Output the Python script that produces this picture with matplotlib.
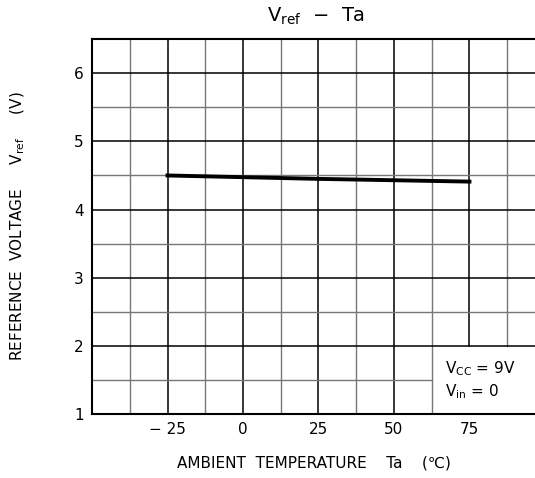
import numpy as np
import matplotlib
matplotlib.use("Agg")
import matplotlib.pyplot as plt

# data
temps = [-25, 0, 25, 50, 75]
vref = [4.50, 4.475, 4.45, 4.43, 4.41]
xticks = [-25, 0, 25, 50, 75]
xtick_labels = ["\u2212 25", "0", "25", "50", "75"]
yticks = [1, 2, 3, 4, 5, 6]

plt.rcParams['font.family'] = ['DejaVu Sans']
plt.rcParams['mathtext.fontset'] = 'dejavusans'

fig = plt.figure(figsize=(5.35, 4.78), dpi=100)
ax = fig.add_axes([0.172, 0.134, 0.828, 0.784])

ax.set_xlim(-50, 96.7)
ax.set_ylim(1, 6.5)

# grid: major black, minor grey; blank box for the conditions note
for x in np.arange(-37.5, 96.7, 12.5):
    major = (x % 25 == 0)
    ax.plot([x, x], [1 if x <= 62.5 else 2, 6.5],
            color='black' if major else '#777777',
            lw=1.1 if major else 1.0, zorder=1)
for y in np.arange(1.5, 6.5, 0.5):
    major = (y % 1 == 0)
    x_end = 62.5 if y < 2 else 96.7
    ax.plot([-50, x_end], [y, y],
            color='black' if major else '#777777',
            lw=1.1 if major else 1.0, zorder=1)

ax.plot(temps, vref, color='black', lw=2.8, zorder=3)

ax.text(67, 1.67, r"V$_{\rm CC}$ = 9V", fontsize=11, va='center')
ax.text(67, 1.33, r"V$_{\rm in}$ = 0", fontsize=11, va='center')

ax.spines['right'].set_visible(False)
for s in ['left', 'top', 'bottom']:
    ax.spines[s].set_linewidth(1.5)

ax.set_xticks(xticks)
ax.set_xticklabels(xtick_labels, fontsize=11)
ax.set_yticks(yticks)
ax.set_yticklabels([str(v) for v in yticks], fontsize=11)
ax.tick_params(length=0, pad=6)

ax.set_xlabel("AMBIENT  TEMPERATURE    Ta    (\u2103)", fontsize=11, labelpad=13)
ax.set_ylabel(r"REFERENCE  VOLTAGE     V$_{\rm ref}$     (V)", fontsize=11, labelpad=34)
fig.text(0.59, 0.965, r"V$_{\rm ref}$  $-$  Ta", fontsize=14, ha='center', va='center')

fig.savefig("out.png", dpi=100)
